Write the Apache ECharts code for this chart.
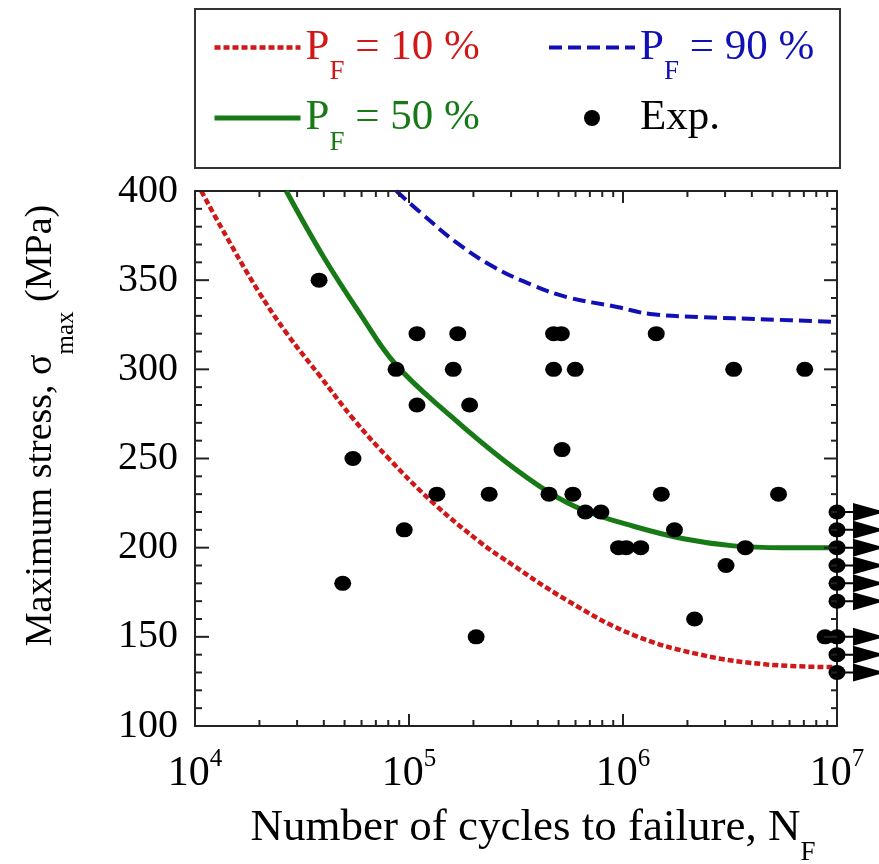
<!DOCTYPE html>
<html>
<head>
<meta charset="utf-8">
<script src="https://cdn.jsdelivr.net/npm/echarts@6/dist/echarts.min.js"></script>
<style>
html,body{margin:0;padding:0;background:#ffffff;}
#chart{width:879px;height:864px;}
</style>
</head>
<body>
<div id="chart"></div>
<script>
// ---------------- data ----------------
const seriesNames = ['P_F = 10 %', 'P_F = 50 %', 'P_F = 90 %', 'Exp.'];

// P_F = 10 % curve
const pf10N = [1.07e4, 1.32e4, 1.95e4, 2.69e4, 3.85e4, 5.51e4, 8.04e4, 1.30e5, 2.15e5, 2.67e5, 5.47e5, 1.12e6, 2.30e6, 4.71e6, 1.0e7];
const pf10S = [400, 380, 345, 320, 296, 272, 250, 225, 203, 195, 170.5, 151, 140, 134.5, 133];

// P_F = 50 % curve
const pf50N = [2.67e4, 3.99e4, 5.92e4, 8.63e4, 1.56e5, 2.77e5, 4.51e5, 6.55e5, 1.12e6, 1.92e6, 3.29e6, 5.62e6, 1.0e7];
const pf50S = [400, 363, 331, 303, 274, 249, 231, 221, 212, 205, 201, 200, 200];

// P_F = 90 % curve
const pf90N = [8.73e4, 1.13e5, 1.67e5, 2.48e5, 3.82e5, 5.47e5, 9.38e5, 1.34e6, 2.30e6, 4.71e6, 1.0e7];
const pf90S = [400, 388, 371, 357.5, 347, 340.5, 335, 331, 329.3, 328, 326.5];

// Experimental failures
const expN = [3.8e4,
  1.09e5, 1.69e5, 4.74e5, 5.15e5, 1.43e6,
  8.7e4, 1.61e5, 4.74e5, 5.98e5, 3.29e6, 7.07e6,
  1.09e5, 1.92e5,
  5.47e4, 5.19e5,
  1.35e5, 2.37e5, 4.51e5, 5.83e5, 1.51e6, 5.33e6,
  6.67e5, 7.89e5,
  9.5e4, 1.74e6,
  9.53e5, 1.035e6, 1.21e6, 3.73e6,
  3.03e6,
  4.9e4,
  2.06e5, 2.16e6, 8.8e6];
const expS = [350,
  320, 320, 320, 320, 320,
  300, 300, 300, 300, 300, 300,
  280, 280,
  250, 255,
  230, 230, 230, 230, 230, 230,
  220, 220,
  210, 210,
  200, 200, 200, 200,
  190,
  180,
  150, 160, 150];

// Run-outs (no failure at 10^7 cycles)
const runoutN = [1e7, 1e7, 1e7, 1e7, 1e7, 1e7, 1e7, 1e7, 1e7];
const runoutS = [220, 210, 200, 190, 180, 170, 150, 140, 130];

// axis ticks
const xDecadeExponents = ['4', '5', '6', '7'];
const xMajorTickN = [1e4, 1e5, 1e6, 1e7];
const xMinorTickN = [
  2e4, 3e4, 4e4, 5e4, 6e4, 7e4, 8e4, 9e4,
  2e5, 3e5, 4e5, 5e5, 6e5, 7e5, 8e5, 9e5,
  2e6, 3e6, 4e6, 5e6, 6e6, 7e6, 8e6, 9e6];
const yMajorTickS = [100, 150, 200, 250, 300, 350, 400];
const yMinorTickS = [110, 120, 130, 140, 160, 170, 180, 190, 210, 220, 230, 240,
  260, 270, 280, 290, 310, 320, 330, 340, 360, 370, 380, 390];

// ---------------- styles ----------------
const FONT = "'Liberation Serif', 'Times New Roman', 'DejaVu Serif', serif";
const RED = '#d01818';
const GREEN = '#177a17';
const BLUE = '#1010b4';
const AXIS = '#222222';
const X_MIN = 1e4, X_MAX = 1e7, Y_MIN = 100, Y_MAX = 400;

function zip(a, b) { return a.map(function (v, i) { return [v, b[i]]; }); }

// tick marks drawn through the axes' own scales (inward, on all four sides)
function xTickSeries(name, values, len) {
  return {
    name: name, type: 'custom', xAxisIndex: 0, yAxisIndex: 0,
    data: values.map(function (n) { return [n, Y_MIN]; }),
    silent: true, clip: false, zlevel: 1, z: 100,
    renderItem: function (params, api) {
      const n = api.value(0);
      const pb = api.coord([n, Y_MIN]);
      const pt = api.coord([n, Y_MAX]);
      return { type: 'group', children: [
        { type: 'line', shape: { x1: pb[0], y1: pb[1], x2: pb[0], y2: pb[1] - len }, style: { stroke: AXIS, lineWidth: 2 } },
        { type: 'line', shape: { x1: pt[0], y1: pt[1], x2: pt[0], y2: pt[1] + len }, style: { stroke: AXIS, lineWidth: 2 } }
      ] };
    }
  };
}
function yTickSeries(name, values, lenL, lenR) {
  return {
    name: name, type: 'custom', xAxisIndex: 0, yAxisIndex: 0,
    data: values.map(function (s) { return [X_MIN, s]; }),
    silent: true, clip: false, zlevel: 1, z: 100,
    renderItem: function (params, api) {
      const s = api.value(1);
      const pl = api.coord([X_MIN, s]);
      const pr = api.coord([X_MAX, s]);
      return { type: 'group', children: [
        { type: 'line', shape: { x1: pl[0], y1: pl[1], x2: pl[0] + lenL, y2: pl[1] }, style: { stroke: AXIS, lineWidth: 2 } },
        { type: 'line', shape: { x1: pr[0], y1: pr[1], x2: pr[0] - lenR, y2: pr[1] }, style: { stroke: AXIS, lineWidth: 2 } }
      ] };
    }
  };
}

const legendRich = {
  m: { fontFamily: FONT, fontSize: 43, lineHeight: 76, verticalAlign: 'middle' },
  s: { fontFamily: FONT, fontSize: 27, lineHeight: 27, verticalAlign: 'bottom' }
};

function legendFormatter(name) {
  if (name.indexOf('P_F') === 0) {
    return '{m|P}{s|F}{m|' + name.slice(3) + '}';
  }
  return '{m|' + name + '}';
}

const legendCommon = {
  orient: 'vertical',
  top: 26,
  padding: 0,
  itemWidth: 86,
  itemHeight: 16,
  itemGap: 11,
  selectedMode: false,
  formatter: legendFormatter,
  textStyle: { fontFamily: FONT, fontSize: 43, rich: legendRich }
};

const chart = echarts.init(document.getElementById('chart'));

const option = {
  animation: false,
  grid: { left: 195, right: 42, top: 191, bottom: 138, outerBoundsMode: 'none' },
  graphic: [{
    type: 'rect',
    shape: { x: 195, y: 9, width: 645, height: 159 },
    style: { fill: 'none', stroke: '#333333', lineWidth: 2 },
    silent: true
  }],
  legend: [
    Object.assign({}, legendCommon, {
      left: 212,
      data: [
        { name: seriesNames[0], textStyle: { color: RED }, itemStyle: { opacity: 0 }, lineStyle: { width: 4.5 } },
        { name: seriesNames[1], textStyle: { color: GREEN }, itemStyle: { opacity: 0 }, lineStyle: { width: 5 } }
      ]
    }),
    Object.assign({}, legendCommon, {
      left: 547,
      data: [
        { name: seriesNames[2], textStyle: { color: BLUE }, itemStyle: { opacity: 0 }, lineStyle: { width: 4 } },
        { name: seriesNames[3], textStyle: { color: '#000000' } }
      ]
    })
  ],
  xAxis: [
    {
      type: 'log', logBase: 10, min: X_MIN, max: X_MAX, position: 'bottom',
      axisLine: { show: true, lineStyle: { color: AXIS, width: 2 } },
      axisTick: { show: false },
      splitLine: { show: false },
      axisLabel: {
        show: true, margin: 21,
        formatter: function (v, i) { return '{b|10}{p|' + xDecadeExponents[i] + '}'; },
        rich: {
          b: { fontFamily: FONT, fontSize: 42, lineHeight: 54, color: '#000', verticalAlign: 'middle' },
          p: { fontFamily: FONT, fontSize: 25, lineHeight: 25, color: '#000', verticalAlign: 'top' }
        }
      },
      name: '{m|Number of cycles to failure, N}{s|F}',
      nameLocation: 'middle',
      nameGap: 64,
      nameTextStyle: { color: '#000', padding: [0, 0, 0, 34], rich: {
        m: { fontFamily: FONT, fontSize: 45, lineHeight: 76, verticalAlign: 'middle' },
        s: { fontFamily: FONT, fontSize: 27, lineHeight: 27, verticalAlign: 'bottom' }
      } }
    },
    {
      type: 'log', logBase: 10, min: X_MIN, max: X_MAX, position: 'top',
      axisLine: { show: true, lineStyle: { color: AXIS, width: 2 } },
      axisTick: { show: false },
      axisLabel: { show: false },
      splitLine: { show: false }
    }
  ],
  yAxis: [
    {
      type: 'value', min: Y_MIN, max: Y_MAX, interval: 50, position: 'left',
      axisLine: { show: true, lineStyle: { color: AXIS, width: 2 } },
      axisTick: { show: false },
      minorTick: { show: false },
      splitLine: { show: false },
      axisLabel: { show: true, margin: 17, color: '#000', fontFamily: FONT, fontSize: 40 },
      name: '{m|Maximum stress, σ}{s|max}{m| (MPa)}',
      nameLocation: 'middle',
      nameRotate: 90,
      nameGap: 116,
      nameTextStyle: { color: '#000', padding: [0, 0, 0, 66], rich: {
        m: { fontFamily: FONT, fontSize: 38, lineHeight: 76, verticalAlign: 'middle' },
        s: { fontFamily: FONT, fontSize: 25, lineHeight: 26, verticalAlign: 'bottom' }
      } }
    },
    {
      type: 'value', min: Y_MIN, max: Y_MAX, interval: 50, position: 'right',
      axisLine: { show: true, lineStyle: { color: AXIS, width: 2 } },
      axisTick: { show: false },
      minorTick: { show: false },
      splitLine: { show: false },
      axisLabel: { show: false }
    }
  ],
  series: [
    xTickSeries('x minor ticks', xMinorTickN, 6),
    xTickSeries('x major ticks', xMajorTickN, 12),
    yTickSeries('y major ticks', yMajorTickS, 14, 13),
    yTickSeries('y minor ticks', yMinorTickS, 7, 6),
    {
      name: seriesNames[0], type: 'line', xAxisIndex: 0, yAxisIndex: 0,
      data: zip(pf10N, pf10S), symbol: 'none', smooth: 0.4,
      color: RED,
      lineStyle: { color: RED, width: 4.5, type: [6, 3] }, z: 2
    },
    {
      name: seriesNames[1], type: 'line', xAxisIndex: 0, yAxisIndex: 0,
      data: zip(pf50N, pf50S), symbol: 'none', smooth: 0.4,
      color: GREEN,
      lineStyle: { color: GREEN, width: 5, type: 'solid' }, z: 2
    },
    {
      name: seriesNames[2], type: 'line', xAxisIndex: 0, yAxisIndex: 0,
      data: zip(pf90N, pf90S), symbol: 'none', smooth: 0.4,
      color: BLUE,
      lineStyle: { color: BLUE, width: 4, type: [13, 6] }, z: 2
    },
    {
      name: 'Run-out', type: 'scatter', xAxisIndex: 0, yAxisIndex: 0,
      data: zip(runoutN, runoutS),
      symbol: 'path://M0,8 L16,8 L16,0 L48,9 L16,18 L16,10 L0,10 Z',
      symbolSize: [48, 18], symbolOffset: [24, 0],
      itemStyle: { color: '#000', opacity: 1 }, clip: false, z: 4, silent: true
    },
    {
      name: seriesNames[3], type: 'scatter', xAxisIndex: 0, yAxisIndex: 0,
      data: zip(expN, expS).concat(zip(runoutN, runoutS)),
      symbol: 'circle', symbolSize: [17, 15],
      itemStyle: { color: '#000', opacity: 1 }, clip: false, z: 5
    }
  ]
};

chart.setOption(option);
</script>
</body>
</html>
